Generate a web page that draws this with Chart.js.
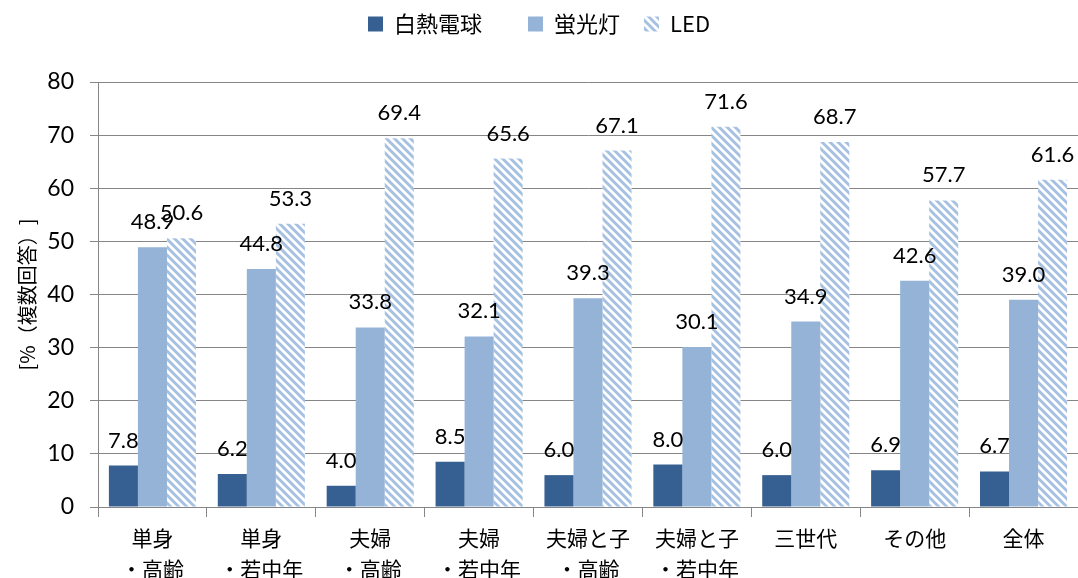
<!DOCTYPE html>
<html>
<head>
<meta charset="utf-8">
<script src="https://cdn.jsdelivr.net/npm/chart.js@4.4.1/dist/chart.umd.min.js"></script>
<style>
  html, body { margin: 0; padding: 0; background: #fff; }
  #wrap { width: 1078px; height: 578px; }
</style>
</head>
<body>
<div id="wrap"><canvas id="lightChart"></canvas></div>
<script>
// data
const categories = [
  ['単身', '・高齢'], ['単身', '・若中年'], ['夫婦', '・高齢'], ['夫婦', '・若中年'],
  ['夫婦と子', '・高齢'], ['夫婦と子', '・若中年'], ['三世代'], ['その他'], ['全体']
];
const seriesNames = ['白熱電球', '蛍光灯', 'LED'];
const incandescent = [7.8, 6.2, 4.0, 8.5, 6.0, 8.0, 6.0, 6.9, 6.7];
const fluorescent = [48.9, 44.8, 33.8, 32.1, 39.3, 30.1, 34.9, 42.6, 39.0];
const led = [50.6, 53.3, 69.4, 65.6, 67.1, 71.6, 68.7, 57.7, 61.6];
const yTicks = [0, 10, 20, 30, 40, 50, 60, 70, 80];

const FONT = "Lato, 'Noto Sans CJK JP', sans-serif";
const CJK = "'Noto Sans CJK JP', sans-serif";

// diagonal hatch for LED
function makeHatch() {
    const c = document.createElement('canvas');
    c.width = 8; c.height = 8;
    const g = c.getContext('2d');
    g.fillStyle = '#ffffff';
    g.fillRect(0, 0, 8, 8);
    g.strokeStyle = '#a7c1e3';
    g.lineWidth = 3;
    g.beginPath();
    g.moveTo(-2, -2); g.lineTo(10, 10);
    g.moveTo(-10, -2); g.lineTo(2, 10);
    g.moveTo(6, -2); g.lineTo(18, 10);
    g.stroke();
    return g.createPattern(c, 'repeat');
}
const hatch = makeHatch();

// value labels above each bar
const barLabels = {
    id: 'barLabels',
    afterDatasetsDraw(chart) {
        const ctx = chart.ctx;
        ctx.save();
        ctx.font = '22px ' + FONT;
        ctx.fillStyle = '#000';
        ctx.textAlign = 'center';
        ctx.textBaseline = 'alphabetic';
        chart.data.datasets.forEach((ds, i) => {
            chart.getDatasetMeta(i).data.forEach((bar, j) => {
                ctx.fillText(ds.data[j].toFixed(1), bar.x, bar.y - 18);
            });
        });
        ctx.restore();
    }
};

const legendHeight = {
    id: 'legendHeight',
    beforeInit(chart) {
        const fit = chart.legend.fit;
        chart.legend.fit = function() {
            fit.bind(chart.legend)();
            this.height = 82;
        };
    }
};

// extra gap after legend entries
const legendGaps = ['\u3000\u2002', '\u2002', ''];

const ctx = document.getElementById('lightChart').getContext('2d');
const lightChart = new Chart(ctx, {
    type: 'bar',
    data: {
        labels: categories,
        datasets: [
            { label: seriesNames[0], data: incandescent, backgroundColor: '#376092' },
            { label: seriesNames[1], data: fluorescent, backgroundColor: '#95b3d7' },
            { label: seriesNames[2], data: led, backgroundColor: hatch }
        ]
    },
    options: {
        responsive: true,
        maintainAspectRatio: false,
        animation: false,
        layout: { padding: 0 },
        datasets: { bar: { categoryPercentage: 0.8, barPercentage: 1.0 } },
        plugins: {
            legend: {
                position: 'top',
                labels: {
                    font: { family: CJK, size: 22 },
                    color: '#000',
                    boxWidth: 15,
                    boxHeight: 15,
                    padding: 13,
                    generateLabels(chart) {
                        const items = Chart.defaults.plugins.legend.labels.generateLabels(chart);
                        items.forEach((it, i) => { it.text = it.text + legendGaps[i]; });
                        return items;
                    }
                }
            },
            tooltip: { enabled: false }
        },
        scales: {
            x: {
                grid: { drawOnChartArea: false, color: '#868686', tickLength: 10, offset: true },
                border: { color: '#868686' },
                ticks: {
                    font: { family: CJK, size: 21, lineHeight: 1.45 },
                    color: '#000',
                    maxRotation: 0,
                    padding: 6
                },
                afterFit(scale) { scale.height = 71; }
            },
            y: {
                min: 0,
                max: 80,
                afterBuildTicks(scale) { scale.ticks = yTicks.map(v => ({ value: v })); },
                grid: { color: '#868686', tickLength: 8 },
                border: { color: '#868686' },
                ticks: {
                    font: { family: FONT, size: 23 },
                    color: '#000',
                    padding: 16
                },
                title: {
                    display: true,
                    text: '[%（複数回答）]',
                    font: { family: CJK, size: 20 },
                    color: '#000',
                    padding: { top: 15, bottom: 0 }
                },
                afterFit(scale) { scale.width = 98; }
            }
        }
    },
    plugins: [barLabels, legendHeight]
});
</script>
</body>
</html>
